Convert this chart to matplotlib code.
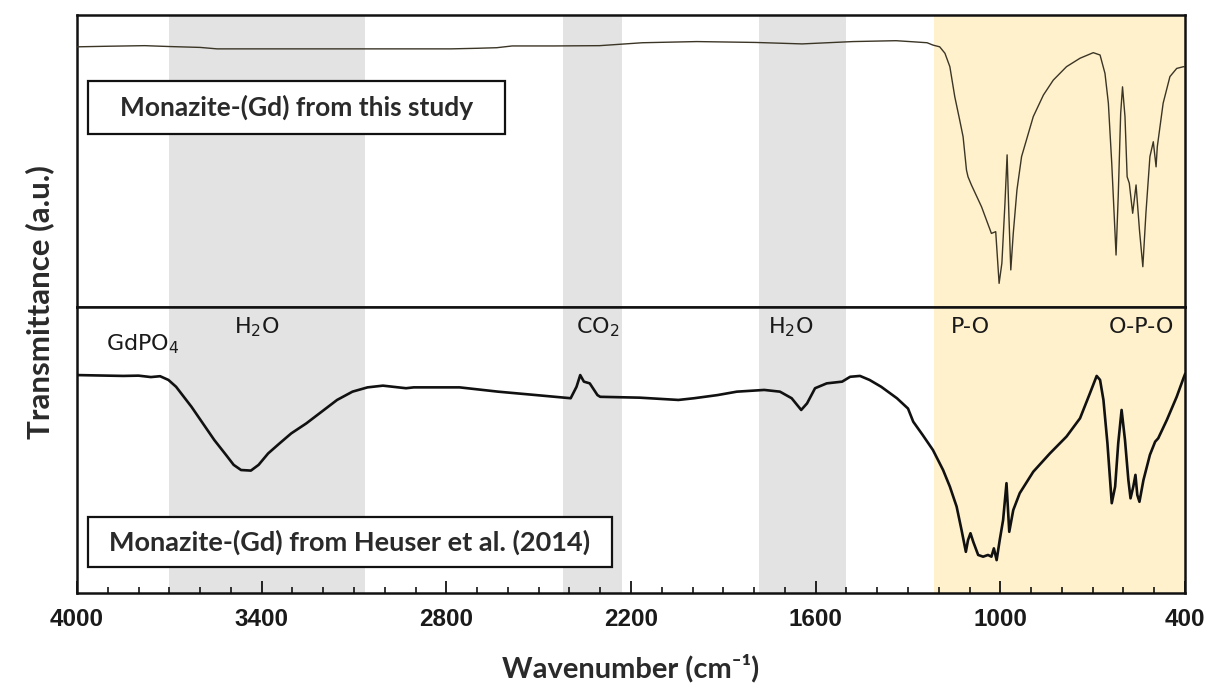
import matplotlib
matplotlib.use("Agg")
import matplotlib.pyplot as plt
from matplotlib.patches import Rectangle
from matplotlib.ticker import MultipleLocator, FixedLocator

# ---- spectra (wavenumber in cm-1, transmittance in arbitrary units) ----
this_study_wn = [4000, 3900, 3780, 3700, 3600, 3545, 3300, 3000, 2785, 2700, 2636, 2586,
                 2450, 2302, 2163, 1986, 1795, 1644, 1479, 1339, 1280, 1238, 1219, 1197,
                 1180, 1164, 1148, 1132, 1121, 1110, 1105, 1094, 1061, 1029, 1015, 1004,
                 995, 985, 978, 972, 966, 958, 946, 931, 893, 860, 828, 785, 741, 698,
                 676, 660, 649, 638, 624, 617, 609, 603, 595, 588, 581, 570, 559, 548,
                 537, 527, 514, 503, 494, 490, 471, 449, 427, 405, 400]
this_study_t = [89.1, 89.3, 89.5, 89.2, 88.9, 88.4, 88.4, 88.4, 88.4, 88.6, 88.8, 89.4,
                89.4, 89.5, 90.5, 90.9, 90.6, 90.1, 90.9, 91.2, 90.8, 90.5, 89.7, 89.1,
                86.9, 82.3, 72.0, 64.0, 58.3, 46.9, 44.6, 41.8, 34.3, 25.2, 25.8, 8.1,
                15.0, 35.5, 52.1, 30.9, 12.7, 25.2, 40.1, 51.5, 65.2, 72.6, 77.7, 82.3,
                85.2, 87.1, 86.3, 80.0, 69.8, 49.2, 17.8, 37.8, 66.3, 75.4, 65.2, 44.6,
                42.4, 32.1, 41.8, 26.4, 13.8, 32.1, 51.5, 56.6, 48.0, 54.9, 69.8, 78.9,
                81.7, 82.3, 82.3]

heuser_wn = [4000, 3850, 3800, 3760, 3730, 3703, 3678, 3653, 3628, 3591, 3554, 3516,
             3491, 3467, 3435, 3410, 3379, 3342, 3304, 3255, 3205, 3155, 3105, 3056,
             3006, 2931, 2906, 2757, 2632, 2508, 2396, 2377, 2365, 2353, 2334, 2309,
             2300, 2172, 2046, 1995, 1919, 1856, 1767, 1716, 1678, 1647, 1628, 1602,
             1564, 1514, 1488, 1456, 1425, 1387, 1336, 1300, 1283, 1252, 1219, 1186,
             1164, 1142, 1126, 1112, 1105, 1097, 1088, 1072, 1056, 1040, 1029, 1021,
             1012, 1002, 991, 980, 971, 958, 937, 893, 839, 785, 741, 709, 687, 676,
             665, 652, 638, 627, 617, 606, 595, 584, 577, 568, 561, 555, 548, 535,
             514, 497, 487, 459, 427, 405, 400]
heuser_t = [76.2, 75.9, 76.0, 75.5, 75.8, 74.5, 72.1, 68.6, 65.1, 59.3, 53.5, 48.3,
            44.8, 43.0, 42.8, 44.8, 48.8, 52.3, 55.8, 59.3, 63.4, 67.5, 70.4, 71.9,
            72.5, 71.6, 71.9, 71.9, 70.4, 69.2, 68.1, 72.1, 76.2, 73.9, 73.3, 69.2,
            68.6, 68.3, 67.5, 68.1, 69.2, 70.4, 71.0, 70.4, 68.1, 64.0, 66.3, 71.6,
            73.3, 73.9, 75.6, 75.9, 74.5, 72.1, 68.1, 64.5, 59.9, 55.2, 50.0, 43.0,
            37.2, 30.2, 22.0, 14.4, 18.5, 20.9, 17.9, 13.3, 12.7, 13.3, 12.7, 15.6,
            11.5, 18.5, 25.5, 38.4, 21.4, 29.0, 34.9, 42.4, 48.8, 54.7, 61.1, 69.8,
            75.9, 74.5, 67.5, 52.3, 31.4, 37.2, 52.3, 64.0, 53.5, 39.5, 33.1, 37.2,
            41.3, 34.3, 31.9, 39.5, 48.3, 52.9, 54.1, 60.5, 68.6, 75.1, 76.5]

# shaded assignment bands (cm-1)
gray_bands = [(3700, 3065), (2420, 2230), (1785, 1500)]
po_band = (1215, 400)

# band labels: text, wavenumber of label centre, height in lower panel
band_labels = ["GdPO$_4$", "H$_2$O", "CO$_2$", "H$_2$O", "P-O", "O-P-O"]
band_label_wn = [3787, 3416, 2309, 1681, 1098, 540]
band_label_t = [85.0, 90.9, 90.9, 90.9, 90.9, 90.9]

xticks_major = [4000, 3400, 2800, 2200, 1600, 1000, 400]
panel_titles = ["Monazite-(Gd) from this study", "Monazite-(Gd) from Heuser et al. (2014)"]

W, H = 1211, 684
fig = plt.figure(figsize=(W / 100, H / 100), dpi=100)

left, right = 77 / W, 1185 / W
y_top, y_mid, y_bot = 1 - 15 / H, 1 - 307 / H, 1 - 593 / H
ax_top = fig.add_axes([left, y_mid, right - left, y_top - y_mid])
ax_bot = fig.add_axes([left, y_bot, right - left, y_mid - y_bot], sharex=ax_top)

GRAY = "#e3e3e3"
CREAM = "#fff1cc"
for ax in (ax_top, ax_bot):
    for a, b in gray_bands:
        ax.axvspan(a, b, color=GRAY, lw=0, zorder=0)
    ax.axvspan(po_band[0], po_band[1], color=CREAM, lw=0, zorder=0)
    ax.set_ylim(0, 100)
    ax.set_yticks([])
    for s in ax.spines.values():
        s.set_linewidth(1.8)
        s.set_color("#111111")

ax_top.set_xlim(4000, 400)
ax_top.plot(this_study_wn, this_study_t, color="#3b3526", lw=1.0, zorder=3)
ax_bot.plot(heuser_wn, heuser_t, color="#111111", lw=1.9, zorder=3)

ax_top.tick_params(axis="x", which="both", bottom=False, labelbottom=False)
ax_bot.xaxis.set_major_locator(FixedLocator(xticks_major))
ax_bot.xaxis.set_minor_locator(MultipleLocator(100))
ax_bot.tick_params(axis="x", which="major", direction="in", length=8.5, width=1.2,
                   pad=11, labelsize=17.5, top=False)
ax_bot.tick_params(axis="x", which="minor", direction="in", length=4.5, width=1.1, top=False)
for lab in ax_bot.get_xticklabels():
    lab.set_fontfamily("Liberation Sans")
    lab.set_fontweight("bold")
    lab.set_color("#1a1a1a")

# framed sample captions
box_specs = [(ax_top, (0.0099, 0.592, 0.376, 0.182), 19),
             (ax_bot, (0.0099, 0.091, 0.473, 0.175), 19.5)]
for (ax, (bx, by, bw, bh), fs), title in zip(box_specs, panel_titles):
    ax.add_patch(Rectangle((bx, by), bw, bh, transform=ax.transAxes, fc="white",
                           ec="#111111", lw=1.6, zorder=4))
    ax.text(bx + bw / 2, by + bh / 2, title, transform=ax.transAxes, ha="center",
            va="center", fontsize=fs, family=["Lato", "DejaVu Sans"], weight="bold",
            color="#2a2a2a", zorder=5)

for s, wn, t in zip(band_labels, band_label_wn, band_label_t):
    ax_bot.text(wn, t, s, ha="center", va="baseline", fontsize=16,
                family="DejaVu Sans", color="#1a1a1a", zorder=5)

fig.text(631 / W, 1 - 677 / H, "Wavenumber (cm⁻¹)", ha="center", va="baseline",
         fontsize=21, family=["Lato", "DejaVu Sans"], weight="bold", color="#2a2a2a")
fig.text(40 / W, 1 - 302 / H, "Transmittance (a.u.)", rotation=90, ha="center",
         va="center", fontsize=22.5, family=["Lato", "DejaVu Sans"], weight="bold",
         color="#2a2a2a")

fig.savefig("out.png", dpi=100)
